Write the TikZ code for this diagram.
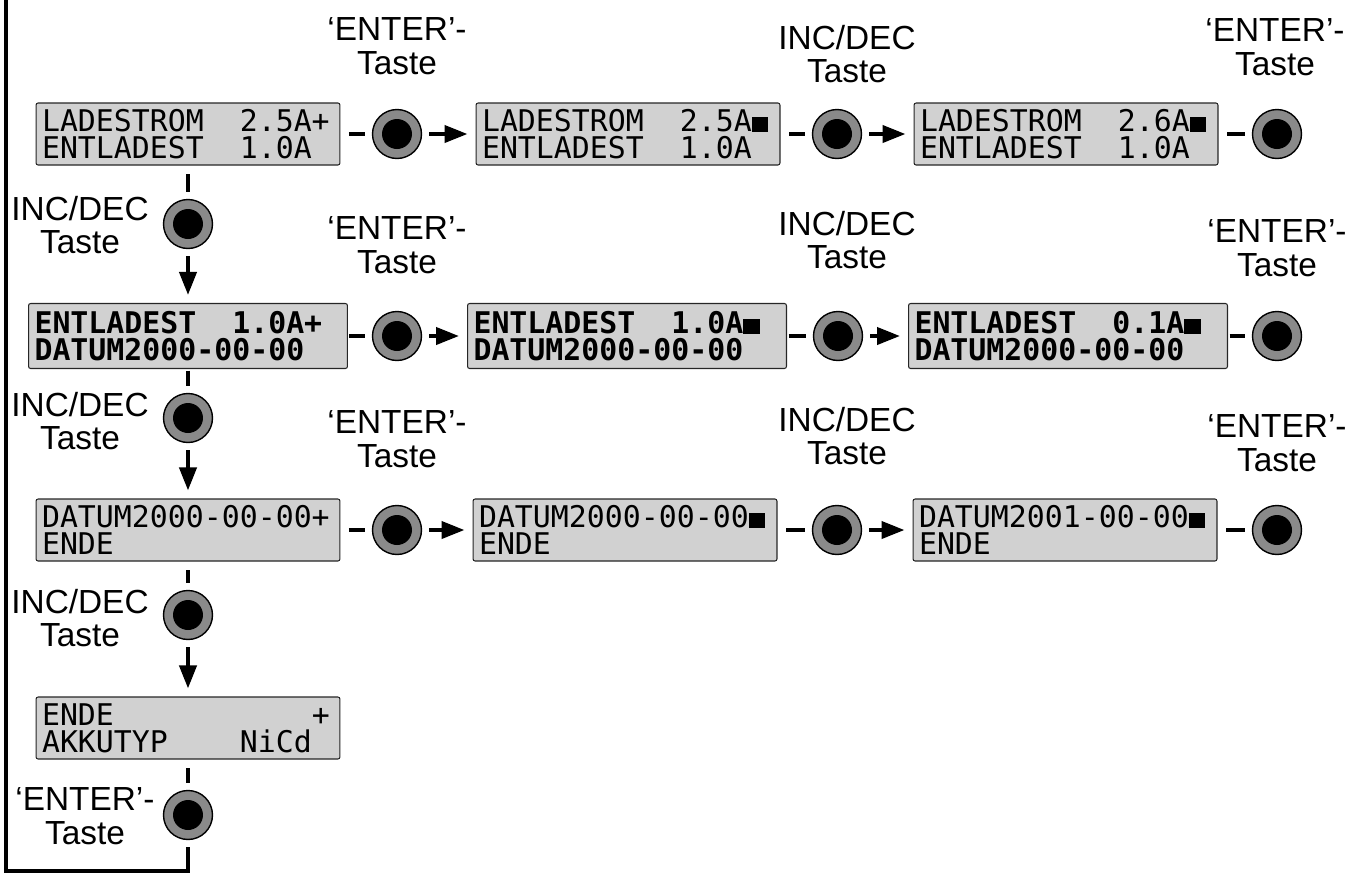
\documentclass[tikz,border=0pt]{standalone}
\usepackage{fontspec}
\setmainfont{Liberation Sans}
\newfontfamily\lcdfont{DejaVu Sans Mono}
\usetikzlibrary{arrows.meta}
\exhyphenpenalty=10000

\definecolor{lcdgrau}{gray}{0.82}
\definecolor{ringgrau}{gray}{0.54}
\newcommand{\cursr}{\rule[-0.02em]{0.55em}{0.5em}}
\newcommand{\lz}{\phantom{0}}

\tikzset{
  lcd/.style={draw=black!85, line width=0.6pt, fill=lcdgrau, rounded corners=1.2pt,
    text width=5.84cm, minimum height=1.24cm, inner xsep=0.12cm, inner ysep=0pt,
    align=left, font=\lcdfont\fontsize{17}{15.5}\selectfont},
  lcdfett/.style={lcd, text width=6.14cm, minimum height=1.3cm,
    font=\lcdfont\bfseries\fontsize{17}{15.5}\selectfont},
  knopf/.style={circle, draw=black, line width=0.8pt, fill=ringgrau, minimum size=0.98cm,
    inner sep=0pt, path picture={\fill[black] (path picture bounding box.center) circle (0.3cm);}},
  taste/.style={align=center, font=\fontsize{19}{19}\selectfont, inner sep=0pt},
  strich/.style={line width=0.08cm, shorten <=0.17cm, shorten >=0.14cm},
  strichnah/.style={strich, shorten <=0.03cm},
  pfeil/.style={line width=0.08cm, -{Triangle[length=0.46cm,width=0.34cm]},
    shorten <=0.14cm, shorten >=0.16cm}
}

\begin{document}
\begin{tikzpicture}[x=0.02cm, y=-0.02cm]
    \useasboundingbox (0,0) rectangle (1357,873);

    % Zeile 1
    \node[lcd] (b1) at (188,134) {LADESTROM\lz\lz2.5A+\\ENTLADEST\lz\lz1.0A};
    \node[knopf] (k1) at (397,134) {};
    \node[lcd] (b2) at (628,134) {LADESTROM\lz\lz2.5A\cursr\\ENTLADEST\lz\lz1.0A};
    \node[knopf] (k2) at (837,134) {};
    \node[lcd] (b3) at (1066,134) {LADESTROM\lz\lz2.6A\cursr\\ENTLADEST\lz\lz1.0A};
    \node[knopf] (k3) at (1277,134) {};
    \node[taste] (t1) at (397,46) {‘ENTER’-\\Taste};
    \node[taste] (t2) at (847,54) {INC/DEC\\Taste};
    \node[taste] (t3) at (1275,47) {‘ENTER’-\\Taste};

    % Zeile 2
    \node[lcdfett] (b4) at (188,336) {ENTLADEST\lz\lz1.0A+\\DATUM2000-00-00};
    \node[knopf] (k4) at (397,336) {};
    \node[lcdfett] (b5) at (627,336) {ENTLADEST\lz\lz1.0A\cursr\\DATUM2000-00-00};
    \node[knopf] (k5) at (838,336) {};
    \node[lcdfett] (b6) at (1068,336) {ENTLADEST\lz\lz0.1A\cursr\\DATUM2000-00-00};
    \node[knopf] (k6) at (1277,336) {};
    \node[taste] (t4) at (397,245) {‘ENTER’-\\Taste};
    \node[taste] (t5) at (847,240) {INC/DEC\\Taste};
    \node[taste] (t6) at (1277,248) {‘ENTER’-\\Taste};

    % Zeile 3
    \node[lcd] (b7) at (188,530) {DATUM2000-00-00+\\ENDE};
    \node[knopf] (k7) at (397,530) {};
    \node[lcd] (b8) at (625,530) {DATUM2000-00-00\cursr\\ENDE};
    \node[knopf] (k8) at (837,530) {};
    \node[lcd] (b9) at (1065,530) {DATUM2001-00-00\cursr\\ENDE};
    \node[knopf] (k9) at (1277,530) {};
    \node[taste] (t7) at (397,439) {‘ENTER’-\\Taste};
    \node[taste] (t8) at (847,436) {INC/DEC\\Taste};
    \node[taste] (t9) at (1277,443) {‘ENTER’-\\Taste};

    % Zeile 4
    \node[lcd] (b10) at (188,728) {ENDE\lz\lz\lz\lz\lz\lz\lz\lz\lz\lz\lz+\\AKKUTYP\lz\lz\lz\lz NiCd};

    % Tasten links
    \node[knopf] (v1) at (188,224) {};
    \node[knopf] (v2) at (188,418) {};
    \node[knopf] (v3) at (188,615) {};
    \node[knopf] (v4) at (188,815) {};
    \node[taste] (s1) at (80,225) {INC/DEC\\Taste};
    \node[taste] (s2) at (80,421) {INC/DEC\\Taste};
    \node[taste] (s3) at (80,618) {INC/DEC\\Taste};
    \node[taste] (s4) at (85,816) {‘ENTER’-\\Taste};

    \draw[strich] (b1) -- (k1);
    \draw[pfeil] (k1) -- (b2);
    \draw[strich] (b2) -- (k2);
    \draw[pfeil] (k2) -- (b3);
    \draw[strich] (b3) -- (k3);

    \draw[strichnah] (b4) -- (k4);
    \draw[pfeil] (k4) -- (b5);
    \draw[strichnah] (b5) -- (k5);
    \draw[pfeil] (k5) -- (b6);
    \draw[strichnah] (b6) -- (k6);

    \draw[strich] (b7) -- (k7);
    \draw[pfeil] (k7) -- (b8);
    \draw[strich] (b8) -- (k8);
    \draw[pfeil] (k8) -- (b9);
    \draw[strich] (b9) -- (k9);

    \draw[strich] (b1) -- (v1);
    \draw[pfeil] (v1) -- (b4);
    \draw[strichnah] (b4) -- (v2);
    \draw[pfeil] (v2) -- (b7);
    \draw[strich] (b7) -- (v3);
    \draw[pfeil] (v3) -- (b10);
    \draw[strich] (b10) -- (v4);

    % Ruecksprung
    \coordinate (unten) at (188,871);
    \coordinate (links) at (6,871);
    \coordinate (oben) at (6,0);
    \draw[line width=0.08cm, shorten <=0.14cm] (v4) -- (unten) -- (links) -- (oben);
\end{tikzpicture}
\end{document}
